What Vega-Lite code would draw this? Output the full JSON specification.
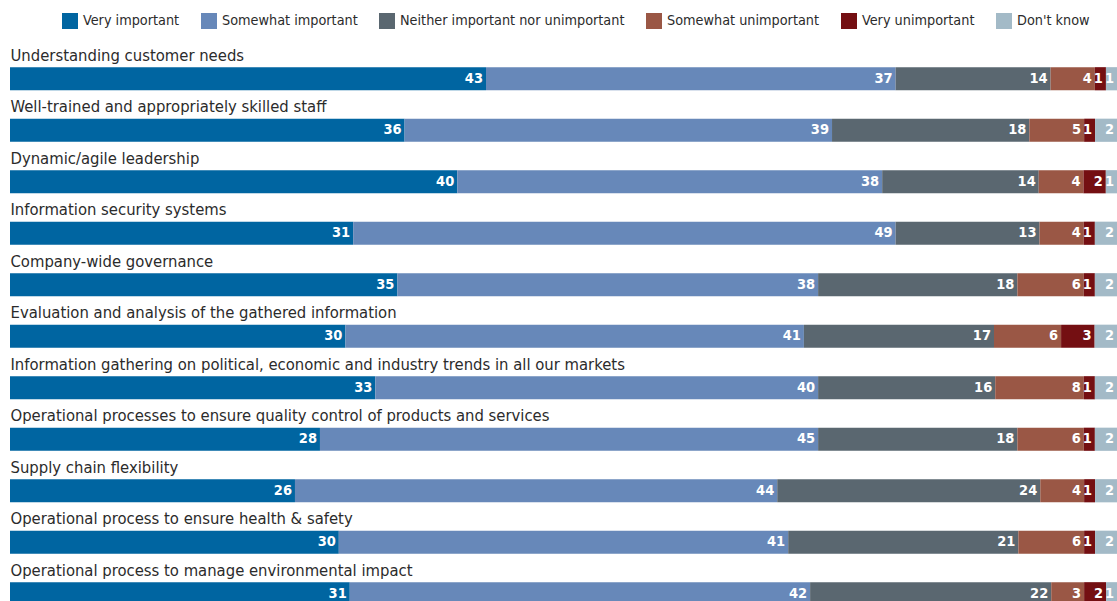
{
  "$schema": "https://vega.github.io/schema/vega-lite/v6.json",
  "autosize": "none",
  "width": 1107,
  "height": 566.5,
  "padding": {"left": 10, "top": 53, "right": 0, "bottom": 0},
  "background": "white",
  "config": {"view": {"stroke": null}, "font": "DejaVu Sans Condensed, Roboto, sans-serif"},
  "data": {"values": [
    {"item": "Understanding customer needs", "cat": "Very important", "o": 1, "v": 43},
    {"item": "Understanding customer needs", "cat": "Somewhat important", "o": 2, "v": 37},
    {"item": "Understanding customer needs", "cat": "Neither important nor unimportant", "o": 3, "v": 14},
    {"item": "Understanding customer needs", "cat": "Somewhat unimportant", "o": 4, "v": 4},
    {"item": "Understanding customer needs", "cat": "Very unimportant", "o": 5, "v": 1},
    {"item": "Understanding customer needs", "cat": "Don't know", "o": 6, "v": 1},
    {"item": "Well-trained and appropriately skilled staff", "cat": "Very important", "o": 1, "v": 36},
    {"item": "Well-trained and appropriately skilled staff", "cat": "Somewhat important", "o": 2, "v": 39},
    {"item": "Well-trained and appropriately skilled staff", "cat": "Neither important nor unimportant", "o": 3, "v": 18},
    {"item": "Well-trained and appropriately skilled staff", "cat": "Somewhat unimportant", "o": 4, "v": 5},
    {"item": "Well-trained and appropriately skilled staff", "cat": "Very unimportant", "o": 5, "v": 1},
    {"item": "Well-trained and appropriately skilled staff", "cat": "Don't know", "o": 6, "v": 2},
    {"item": "Dynamic/agile leadership", "cat": "Very important", "o": 1, "v": 40},
    {"item": "Dynamic/agile leadership", "cat": "Somewhat important", "o": 2, "v": 38},
    {"item": "Dynamic/agile leadership", "cat": "Neither important nor unimportant", "o": 3, "v": 14},
    {"item": "Dynamic/agile leadership", "cat": "Somewhat unimportant", "o": 4, "v": 4},
    {"item": "Dynamic/agile leadership", "cat": "Very unimportant", "o": 5, "v": 2},
    {"item": "Dynamic/agile leadership", "cat": "Don't know", "o": 6, "v": 1},
    {"item": "Information security systems", "cat": "Very important", "o": 1, "v": 31},
    {"item": "Information security systems", "cat": "Somewhat important", "o": 2, "v": 49},
    {"item": "Information security systems", "cat": "Neither important nor unimportant", "o": 3, "v": 13},
    {"item": "Information security systems", "cat": "Somewhat unimportant", "o": 4, "v": 4},
    {"item": "Information security systems", "cat": "Very unimportant", "o": 5, "v": 1},
    {"item": "Information security systems", "cat": "Don't know", "o": 6, "v": 2},
    {"item": "Company-wide governance", "cat": "Very important", "o": 1, "v": 35},
    {"item": "Company-wide governance", "cat": "Somewhat important", "o": 2, "v": 38},
    {"item": "Company-wide governance", "cat": "Neither important nor unimportant", "o": 3, "v": 18},
    {"item": "Company-wide governance", "cat": "Somewhat unimportant", "o": 4, "v": 6},
    {"item": "Company-wide governance", "cat": "Very unimportant", "o": 5, "v": 1},
    {"item": "Company-wide governance", "cat": "Don't know", "o": 6, "v": 2},
    {"item": "Evaluation and analysis of the gathered information", "cat": "Very important", "o": 1, "v": 30},
    {"item": "Evaluation and analysis of the gathered information", "cat": "Somewhat important", "o": 2, "v": 41},
    {"item": "Evaluation and analysis of the gathered information", "cat": "Neither important nor unimportant", "o": 3, "v": 17},
    {"item": "Evaluation and analysis of the gathered information", "cat": "Somewhat unimportant", "o": 4, "v": 6},
    {"item": "Evaluation and analysis of the gathered information", "cat": "Very unimportant", "o": 5, "v": 3},
    {"item": "Evaluation and analysis of the gathered information", "cat": "Don't know", "o": 6, "v": 2},
    {"item": "Information gathering on political, economic and industry trends in all our markets", "cat": "Very important", "o": 1, "v": 33},
    {"item": "Information gathering on political, economic and industry trends in all our markets", "cat": "Somewhat important", "o": 2, "v": 40},
    {"item": "Information gathering on political, economic and industry trends in all our markets", "cat": "Neither important nor unimportant", "o": 3, "v": 16},
    {"item": "Information gathering on political, economic and industry trends in all our markets", "cat": "Somewhat unimportant", "o": 4, "v": 8},
    {"item": "Information gathering on political, economic and industry trends in all our markets", "cat": "Very unimportant", "o": 5, "v": 1},
    {"item": "Information gathering on political, economic and industry trends in all our markets", "cat": "Don't know", "o": 6, "v": 2},
    {"item": "Operational processes to ensure quality control of products and services", "cat": "Very important", "o": 1, "v": 28},
    {"item": "Operational processes to ensure quality control of products and services", "cat": "Somewhat important", "o": 2, "v": 45},
    {"item": "Operational processes to ensure quality control of products and services", "cat": "Neither important nor unimportant", "o": 3, "v": 18},
    {"item": "Operational processes to ensure quality control of products and services", "cat": "Somewhat unimportant", "o": 4, "v": 6},
    {"item": "Operational processes to ensure quality control of products and services", "cat": "Very unimportant", "o": 5, "v": 1},
    {"item": "Operational processes to ensure quality control of products and services", "cat": "Don't know", "o": 6, "v": 2},
    {"item": "Supply chain flexibility", "cat": "Very important", "o": 1, "v": 26},
    {"item": "Supply chain flexibility", "cat": "Somewhat important", "o": 2, "v": 44},
    {"item": "Supply chain flexibility", "cat": "Neither important nor unimportant", "o": 3, "v": 24},
    {"item": "Supply chain flexibility", "cat": "Somewhat unimportant", "o": 4, "v": 4},
    {"item": "Supply chain flexibility", "cat": "Very unimportant", "o": 5, "v": 1},
    {"item": "Supply chain flexibility", "cat": "Don't know", "o": 6, "v": 2},
    {"item": "Operational process to ensure health & safety", "cat": "Very important", "o": 1, "v": 30},
    {"item": "Operational process to ensure health & safety", "cat": "Somewhat important", "o": 2, "v": 41},
    {"item": "Operational process to ensure health & safety", "cat": "Neither important nor unimportant", "o": 3, "v": 21},
    {"item": "Operational process to ensure health & safety", "cat": "Somewhat unimportant", "o": 4, "v": 6},
    {"item": "Operational process to ensure health & safety", "cat": "Very unimportant", "o": 5, "v": 1},
    {"item": "Operational process to ensure health & safety", "cat": "Don't know", "o": 6, "v": 2},
    {"item": "Operational process to manage environmental impact", "cat": "Very important", "o": 1, "v": 31},
    {"item": "Operational process to manage environmental impact", "cat": "Somewhat important", "o": 2, "v": 42},
    {"item": "Operational process to manage environmental impact", "cat": "Neither important nor unimportant", "o": 3, "v": 22},
    {"item": "Operational process to manage environmental impact", "cat": "Somewhat unimportant", "o": 4, "v": 3},
    {"item": "Operational process to manage environmental impact", "cat": "Very unimportant", "o": 5, "v": 2},
    {"item": "Operational process to manage environmental impact", "cat": "Don't know", "o": 6, "v": 1}
  ]},
  "transform": [
    {"stack": "v", "groupby": ["item"], "sort": [{"field": "o", "order": "ascending"}], "offset": "normalize", "as": ["x0", "x1"]}
  ],
  "encoding": {
    "y": {
      "field": "item", "type": "nominal",
      "sort": ["Understanding customer needs", "Well-trained and appropriately skilled staff", "Dynamic/agile leadership", "Information security systems", "Company-wide governance", "Evaluation and analysis of the gathered information", "Information gathering on political, economic and industry trends in all our markets", "Operational processes to ensure quality control of products and services", "Supply chain flexibility", "Operational process to ensure health & safety", "Operational process to manage environmental impact"],
      "scale": {"paddingInner": 0.55, "paddingOuter": 0.275},
      "axis": {"title": null, "orient": "left", "domain": false, "ticks": false, "labelAlign": "left", "labelBaseline": "middle", "labelPadding": 0, "labelOffset": -23, "labelLimit": 0, "labelFont": "DejaVu Sans Condensed, Roboto, sans-serif", "labelFontSize": 16.5, "labelColor": "#2b2b2b"}
    }
  },
  "layer": [
    {
      "mark": {"type": "bar"},
      "encoding": {
        "x": {"field": "x0", "type": "quantitative", "scale": {"domain": [0, 1], "nice": false, "zero": true}, "axis": null},
        "x2": {"field": "x1"},
        "color": {
          "field": "cat", "type": "nominal",
          "sort": ["Very important", "Somewhat important", "Neither important nor unimportant", "Somewhat unimportant", "Very unimportant", "Don't know"],
          "scale": {"domain": ["Very important", "Somewhat important", "Neither important nor unimportant", "Somewhat unimportant", "Very unimportant", "Don't know"], "range": ["#0065a1", "#6788b9", "#5a6770", "#9a5745", "#740f12", "#a3bac7"]},
          "legend": {"title": null, "orient": "none", "direction": "horizontal", "legendX": 52, "legendY": -40, "symbolType": "square", "symbolSize": 256, "symbolStrokeWidth": 0, "symbolOpacity": 1, "labelFont": "DejaVu Sans Condensed, Roboto, sans-serif", "labelFontSize": 14.3, "labelColor": "#2b2b2b", "labelOffset": 5, "columnPadding": 21, "labelLimit": 0}
        }
      }
    },
    {
      "mark": {"type": "text", "align": "right", "baseline": "middle", "dx": -3, "color": "white", "fontWeight": "bold", "fontSize": 14.5, "font": "DejaVu Sans Condensed, Roboto, sans-serif"},
      "encoding": {
        "x": {"field": "x1", "type": "quantitative"},
        "text": {"field": "v", "type": "quantitative"}
      }
    }
  ]
}
